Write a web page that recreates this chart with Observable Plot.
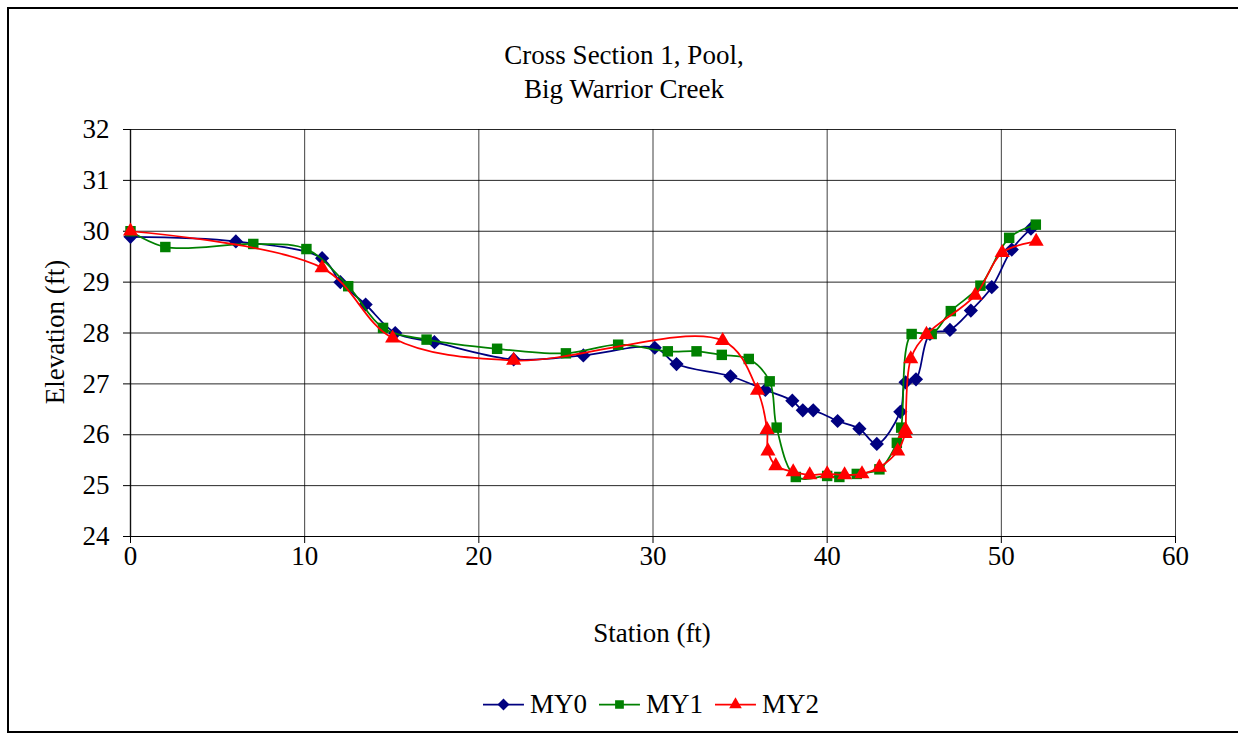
<!DOCTYPE html>
<html>
<head>
<meta charset="utf-8">
<script src="https://cdn.jsdelivr.net/npm/d3@7"></script>
<script src="https://cdn.jsdelivr.net/npm/@observablehq/plot@0.6"></script>
<style>
  body { margin: 0; background: #fff; width: 1238px; height: 740px; overflow: hidden; position: relative; font-family: "Liberation Serif", "Times New Roman", Times, Tinos, "DejaVu Serif", serif; color: #000; }
  #frame { position: absolute; left: 7px; top: 7px; width: 1250px; height: 726px; border: 2px solid #000; box-sizing: border-box; }
  #title { position: absolute; left: 0; width: 1248px; top: 38px; text-align: center; font-size: 27px; line-height: 34px; }
  #chart { position: absolute; left: 0; top: 110px; }
  #ylab { position: absolute; left: 55px; top: 332px; transform: translate(-50%, -50%) rotate(-90deg); font-size: 27px; white-space: nowrap; line-height: 1; }
  #xlab { position: absolute; left: 652px; top: 633px; transform: translate(-50%, -50%); font-size: 27px; white-space: nowrap; line-height: 1; }
  #legend { position: absolute; left: 651px; top: 704px; transform: translate(-50%, -50%); display: flex; align-items: center; font-size: 27px; line-height: 1; white-space: nowrap; }
  #legend .item { display: flex; align-items: center; margin-right: 12px; }
  #legend .item:last-child { margin-right: 0; }
  #legend svg { margin-right: 6px; }
</style>
</head>
<body>
<div id="frame"></div>
<div id="title">Cross Section 1, Pool,<br>Big Warrior Creek</div>
<div id="chart"></div>
<div id="ylab">Elevation (ft)</div>
<div id="xlab">Station (ft)</div>
<div id="legend"></div>
<script>
// ---- data ----
const seriesNames = ["MY0", "MY1", "MY2"];
const seriesColors = ["#000080", "#008000", "#ff0000"];
const xTicks = [0, 10, 20, 30, 40, 50, 60];
const yTicks = [24, 25, 26, 27, 28, 29, 30, 31, 32];

const my0Station = [0, 6.05, 11.0, 12.05, 13.5, 15.2, 17.45, 22.0, 26.0, 30.1, 31.35, 34.45, 36.45, 38.0, 38.6, 39.2, 40.6, 41.85, 42.85, 44.2, 44.5, 45.1, 45.9, 47.05, 48.25, 49.45, 50.6, 51.7];
const my0Elev    = [29.89, 29.8, 29.47, 29.0, 28.56, 28.0, 27.82, 27.48, 27.56, 27.71, 27.39, 27.15, 26.88, 26.67, 26.48, 26.48, 26.27, 26.12, 25.82, 26.45, 27.03, 27.09, 27.98, 28.06, 28.44, 28.9, 29.64, 30.05];

const my1Station = [0, 2.0, 7.05, 10.1, 12.5, 14.5, 17.0, 21.05, 25.0, 28.0, 30.85, 32.5, 33.95, 35.5, 36.7, 37.1, 38.2, 40.0, 40.7, 41.7, 43.0, 44.0, 44.25, 44.85, 46.0, 47.1, 48.8, 50.45, 51.98];
const my1Elev    = [30.0, 29.69, 29.75, 29.65, 28.92, 28.1, 27.87, 27.69, 27.6, 27.77, 27.64, 27.64, 27.57, 27.49, 27.05, 26.14, 25.17, 25.19, 25.17, 25.23, 25.32, 25.84, 26.14, 27.98, 27.98, 28.43, 28.93, 29.87, 30.13];

const my2Station = [0, 11.0, 15.05, 22.0, 34.0, 36.0, 36.55, 36.6, 37.05, 38.05, 39.0, 40.0, 41.0, 42.0, 43.0, 44.05, 44.47, 44.5, 44.8, 45.7, 48.5, 50.05, 52.0];
const my2Elev    = [30.0, 29.28, 27.9, 27.46, 27.85, 26.87, 26.1, 25.68, 25.39, 25.27, 25.21, 25.23, 25.21, 25.23, 25.36, 25.68, 26.02, 26.1, 27.49, 27.97, 28.74, 29.58, 29.8];

// ---- build table ----
const toRows = (name, xs, ys) => xs.map((x, i) => ({series: name, station: x, elev: ys[i]}));
const rows = [
  toRows("MY0", my0Station, my0Elev),
  toRows("MY1", my1Station, my1Elev),
  toRows("MY2", my2Station, my2Elev)
];
const symbols = ["diamond2", "square", "triangle"];
const radii = [6.4, 5.9, 5.6];

const marks = [
  Plot.gridY(yTicks, {stroke: "#000", strokeOpacity: 0.85, strokeWidth: 1}),
  Plot.gridX(xTicks, {stroke: "#000", strokeOpacity: 0.75, strokeWidth: 1}),
  Plot.ruleX([0], {stroke: "#000", strokeOpacity: 0.75, strokeWidth: 1.5}),
  Plot.ruleY([24], {stroke: "#000", strokeWidth: 1}),
  Plot.axisY({ticks: yTicks, tickSize: 7, tickPadding: 14, label: null, tickFormat: d => String(d)}),
  Plot.axisX({ticks: xTicks, tickSize: 7, tickPadding: 2, label: null, tickFormat: d => String(d)})
];
rows.forEach((r, i) => {
  marks.push(Plot.line(r, {x: "station", y: "elev", stroke: seriesColors[i], strokeWidth: 1.75, curve: "catmull-rom"}));
  marks.push(Plot.dot(r, {x: "station", y: "elev", symbol: () => symbols[i], r: radii[i], fill: seriesColors[i], stroke: "none"}));
});

const chart = Plot.plot({
  width: 1238,
  height: 540,
  marginTop: 19,
  marginBottom: 114,
  marginLeft: 130,
  marginRight: 63,
  x: {domain: [0, 60]},
  y: {domain: [24, 32]},
  style: {fontFamily: "'Liberation Serif', 'Times New Roman', Times, Tinos, 'DejaVu Serif', serif", fontSize: "27px", color: "#000", background: "transparent", overflow: "visible"},
  marks
});
document.getElementById("chart").appendChild(chart);

// ---- legend ----
const legend = d3.select("#legend");
const symTypes = [d3.symbolDiamond2, d3.symbolSquare, d3.symbolTriangle];
seriesNames.forEach((name, i) => {
  const item = legend.append("div").attr("class", "item");
  const svg = item.append("svg").attr("width", 41).attr("height", 20);
  svg.append("line").attr("x1", 0).attr("x2", 41).attr("y1", 10).attr("y2", 10)
    .attr("stroke", seriesColors[i]).attr("stroke-width", 1.75);
  svg.append("path").attr("transform", "translate(20.5,10)")
    .attr("d", d3.symbol(symTypes[i], Math.PI * radii[i] * radii[i] * 0.7)())
    .attr("fill", seriesColors[i]);
  item.append("span").text(name);
});
</script>
</body>
</html>
